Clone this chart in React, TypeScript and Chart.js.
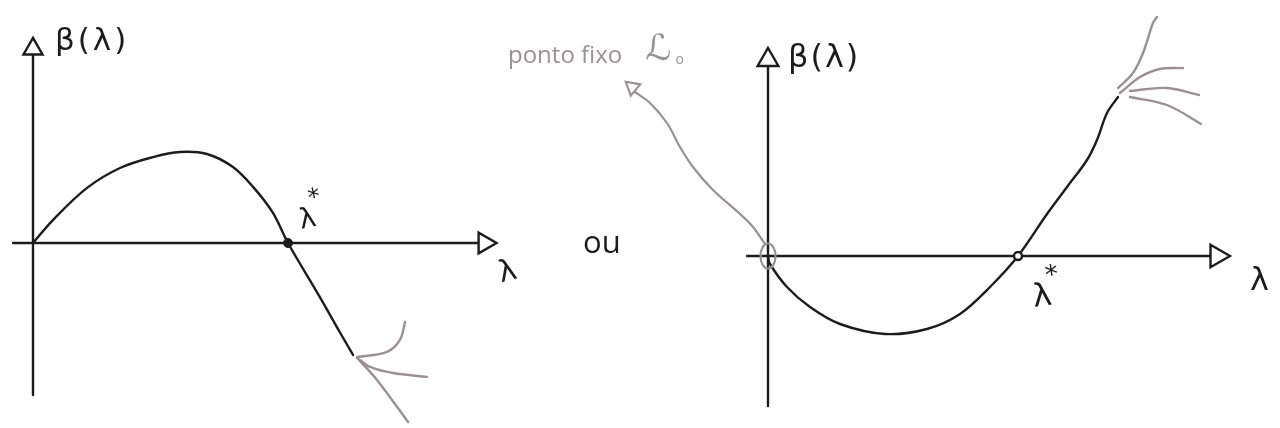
import React, { useEffect, useRef } from "react";
import { Chart, registerables } from "chart.js";

Chart.register(...registerables);

// ---------- data (λ, β) ----------
// left panel: β > 0 up to λ*, then negative
const leftLambda = [0, 0.078, 0.212, 0.341, 0.471, 0.576, 0.682, 0.784, 0.863, 0.941, 1.0, 1.125, 1.204, 1.255];
const leftBeta = [0, 0.09, 0.216, 0.294, 0.337, 0.357, 0.349, 0.298, 0.22, 0.118, 0, -0.212, -0.351, -0.439];

// left panel: gray flow strokes at the end of the curve
const leftGrayA_l = [1.271, 1.388, 1.439, 1.459];
const leftGrayA_b = [-0.447, -0.427, -0.38, -0.31];
const leftGrayB_l = [1.271, 1.322, 1.412, 1.545];
const leftGrayB_b = [-0.451, -0.486, -0.51, -0.525];
const leftGrayC_l = [1.271, 1.349, 1.471];
const leftGrayC_b = [-0.451, -0.537, -0.702];

// right panel: β < 0 up to λ*, then positive
const rightLambda = [0, 0.008, 0.076, 0.168, 0.288, 0.468, 0.636, 0.768, 0.888, 1.0, 1.116, 1.196, 1.276, 1.316, 1.356, 1.4];
const rightBeta = [0, -0.032, -0.124, -0.204, -0.272, -0.312, -0.292, -0.232, -0.124, 0, 0.168, 0.276, 0.384, 0.464, 0.572, 0.636];

// right panel: gray flow strokes at the end of the curve
const rightGray1_l = [1.4, 1.46, 1.5, 1.54, 1.556];
const rightGray1_b = [0.672, 0.732, 0.812, 0.932, 0.956];
const rightGray2_l = [1.408, 1.488, 1.568, 1.66];
const rightGray2_b = [0.652, 0.716, 0.748, 0.752];
const rightGray3_l = [1.448, 1.596, 1.724];
const rightGray3_b = [0.66, 0.672, 0.644];
const rightGray4_l = [1.448, 1.596, 1.732];
const rightGray4_b = [0.636, 0.604, 0.528];

// right panel: gray pointer from the fixed point to the "ponto fixo" note
const pointer_l = [-0.532, -0.472, -0.404, -0.352, -0.3, -0.22, -0.112, -0.06, -0.012];
const pointer_b = [0.656, 0.612, 0.532, 0.436, 0.356, 0.264, 0.168, 0.116, 0.048];
const pointerHead = { l: -0.543, b: 0.675 };

// axes extents (λ range, β range) in each panel
const leftAxisX = [-0.078, 1.771];
const leftAxisY = [-0.596, 0.761];
const rightAxisX = [-0.084, 1.796];
const rightAxisY = [-0.6, 0.784];

// fixed points λ*
const leftStar = 1.0;
const rightStar = 1.0;

// ---------- texts ----------
const labelTexts = ["β(λ)", "λ", "*", "λ", "β(λ)", "λ", "*", "λ", "ou", "ponto fixo", "ℒ", "o"];
const labelLambda = [0.086, 1.051, 1.086, 1.835, 0.08, 1.064, 1.114, 1.928, -0.74, -1.04, -0.49, -0.37];
const labelBeta = [0.757, 0.055, 0.145, -0.155, 0.756, -0.204, -0.112, -0.136, 0.012, 0.772, 0.784, 0.768];
const labelPanel = ["L", "L", "L", "L", "R", "R", "R", "R", "R", "R", "R", "R"];

const BLACK = "#1c1c1c";
const GRAY = "#9c9095";
const HAND = '"DejaVu Sans", sans-serif';
const TYPE = '"Open Sans", sans-serif';
const labelFont = [
  `31px ${HAND}`, `28px ${HAND}`, `24px ${HAND}`, `30px ${HAND}`,
  `32px ${HAND}`, `32px ${HAND}`, `26px ${HAND}`, `32px ${HAND}`,
  `31px ${TYPE}`, `24px ${TYPE}`, `36px ${HAND}`, `14px ${TYPE}`,
];
const labelColor = [BLACK, BLACK, BLACK, BLACK, BLACK, BLACK, BLACK, BLACK, BLACK, GRAY, GRAY, GRAY];
const labelRotate = [0, -12, -12, -15, 0, -8, -8, 0, 0, 0, 0, 0];
const labelSpacing = [3, 0, 0, 0, 2, 0, 0, 0, 0, 0, 0, 0];

const zip = (xs: number[], ys: number[]) => xs.map((x, i) => ({ x, y: ys[i] }));

function makeEllipse(): HTMLCanvasElement {
  const c = document.createElement("canvas");
  c.width = 20;
  c.height = 30;
  const g = c.getContext("2d")!;
  g.strokeStyle = GRAY;
  g.lineWidth = 2.2;
  g.beginPath();
  g.ellipse(10, 15, 7.5, 12.5, 0, 0, Math.PI * 2);
  g.stroke();
  return c;
}

const labelPlugin = {
  id: "sketchLabels",
  afterDatasetsDraw(chart: any) {
    const ctx = chart.ctx as CanvasRenderingContext2D;
    labelTexts.forEach((t, i) => {
      const xs = chart.scales[labelPanel[i] === "L" ? "xL" : "xR"];
      const ys = chart.scales[labelPanel[i] === "L" ? "yL" : "yR"];
      const px = xs.getPixelForValue(labelLambda[i]);
      const py = ys.getPixelForValue(labelBeta[i]);
      ctx.save();
      ctx.font = labelFont[i];
      ctx.fillStyle = labelColor[i];
      ctx.textBaseline = "alphabetic";
      ctx.textAlign = "left";
      (ctx as any).letterSpacing = `${labelSpacing[i]}px`;
      ctx.translate(px, py);
      ctx.rotate((labelRotate[i] * Math.PI) / 180);
      ctx.fillText(t, 0, 0);
      ctx.restore();
    });
  },
};

export default function App() {
  const ref = useRef<HTMLCanvasElement | null>(null);

  useEffect(() => {
    if (!ref.current) return;
    const line = (data: { x: number; y: number }[], color: string, xAxisID: string, yAxisID: string, tension = 0.35, width = 2.4) => ({
      data,
      xAxisID,
      yAxisID,
      showLine: true,
      borderColor: color,
      borderWidth: width,
      pointRadius: 0,
      pointHoverRadius: 0,
      fill: false,
      clip: false as any,
      tension,
      borderCapStyle: "round" as const,
      borderJoinStyle: "round" as const,
    });
    const marker = (
      data: { x: number; y: number }[],
      xAxisID: string,
      yAxisID: string,
      style: any,
      radius: number,
      rotation: number,
      fillColor: string,
      strokeColor: string,
      width = 2.4
    ) => ({
      data,
      xAxisID,
      yAxisID,
      showLine: false,
      pointStyle: style,
      pointRadius: radius,
      pointHoverRadius: radius,
      pointRotation: rotation,
      pointBackgroundColor: fillColor,
      pointBorderColor: strokeColor,
      pointBorderWidth: width,
      clip: false as any,
    });

    const ellipse = makeEllipse();

    const datasets: any[] = [
      // markers on top
      marker([{ x: 0, y: leftAxisY[1] }], "xL", "yL", "triangle", 11, 0, "#fff", BLACK),
      marker([{ x: leftAxisX[1], y: 0 }], "xL", "yL", "triangle", 12, 90, "#fff", BLACK),
      marker([{ x: 0, y: rightAxisY[1] }], "xR", "yR", "triangle", 12, 0, "#fff", BLACK),
      marker([{ x: rightAxisX[1], y: 0 }], "xR", "yR", "triangle", 13, 90, "#fff", BLACK),
      marker([{ x: pointerHead.l, y: pointerHead.b }], "xR", "yR", "triangle", 8.5, -50, "#fff", GRAY, 2.2),
      marker([{ x: leftStar, y: 0 }], "xL", "yL", "circle", 4.5, 0, BLACK, BLACK, 1),
      marker([{ x: rightStar, y: 0 }], "xR", "yR", "circle", 4, 0, "#fff", BLACK, 2.4),
      marker([{ x: 0, y: 0 }], "xR", "yR", ellipse, 10, 0, "rgba(0,0,0,0)", GRAY, 0),
      // curves
      line(zip(leftLambda, leftBeta), BLACK, "xL", "yL"),
      line(zip(rightLambda, rightBeta), BLACK, "xR", "yR"),
      // gray strokes
      line(zip(leftGrayA_l, leftGrayA_b), GRAY, "xL", "yL"),
      line(zip(leftGrayB_l, leftGrayB_b), GRAY, "xL", "yL"),
      line(zip(leftGrayC_l, leftGrayC_b), GRAY, "xL", "yL"),
      line(zip(rightGray1_l, rightGray1_b), GRAY, "xR", "yR"),
      line(zip(rightGray2_l, rightGray2_b), GRAY, "xR", "yR"),
      line(zip(rightGray3_l, rightGray3_b), GRAY, "xR", "yR"),
      line(zip(rightGray4_l, rightGray4_b), GRAY, "xR", "yR"),
      line(zip(pointer_l, pointer_b), GRAY, "xR", "yR", 0.35, 2.2),
      // axes
      line([{ x: leftAxisX[0], y: 0 }, { x: leftAxisX[1], y: 0 }], BLACK, "xL", "yL", 0),
      line([{ x: 0, y: leftAxisY[0] }, { x: 0, y: leftAxisY[1] }], BLACK, "xL", "yL", 0),
      line([{ x: rightAxisX[0], y: 0 }, { x: rightAxisX[1], y: 0 }], BLACK, "xR", "yR", 0),
      line([{ x: 0, y: rightAxisY[0] }, { x: 0, y: rightAxisY[1] }], BLACK, "xR", "yR", 0),
    ];

    // scale windows: left panel origin at 33px/243px with 255 px per unit,
    // right panel origin at 768px/256px with 250 px per unit
    const W = 1280;
    const H = 428;
    const lMinX = -33 / 255;
    const lMaxY = 243 / 255;
    const rMinX = -768 / 250;
    const rMaxY = 256 / 250;

    const chart = new Chart(ref.current, {
      type: "scatter",
      data: { datasets },
      options: {
        animation: false,
        responsive: false,
        maintainAspectRatio: false,
        events: [],
        layout: { padding: 0, autoPadding: false },
        plugins: { legend: { display: false }, tooltip: { enabled: false } },
        scales: {
          xL: { type: "linear", axis: "x", display: false, min: lMinX, max: lMinX + W / 255 },
          yL: { type: "linear", axis: "y", display: false, min: lMaxY - H / 255, max: lMaxY },
          xR: { type: "linear", axis: "x", display: false, min: rMinX, max: rMinX + W / 250 },
          yR: { type: "linear", axis: "y", display: false, min: rMaxY - H / 250, max: rMaxY },
        },
      } as any,
      plugins: [labelPlugin],
    });
    return () => chart.destroy();
  }, []);

  return (
    <div style={{ position: "fixed", left: 0, top: 0, width: 1280, height: 428, background: "#fff" }}>
      <canvas ref={ref} width={1280} height={428} style={{ display: "block", width: 1280, height: 428 }} />
    </div>
  );
}
